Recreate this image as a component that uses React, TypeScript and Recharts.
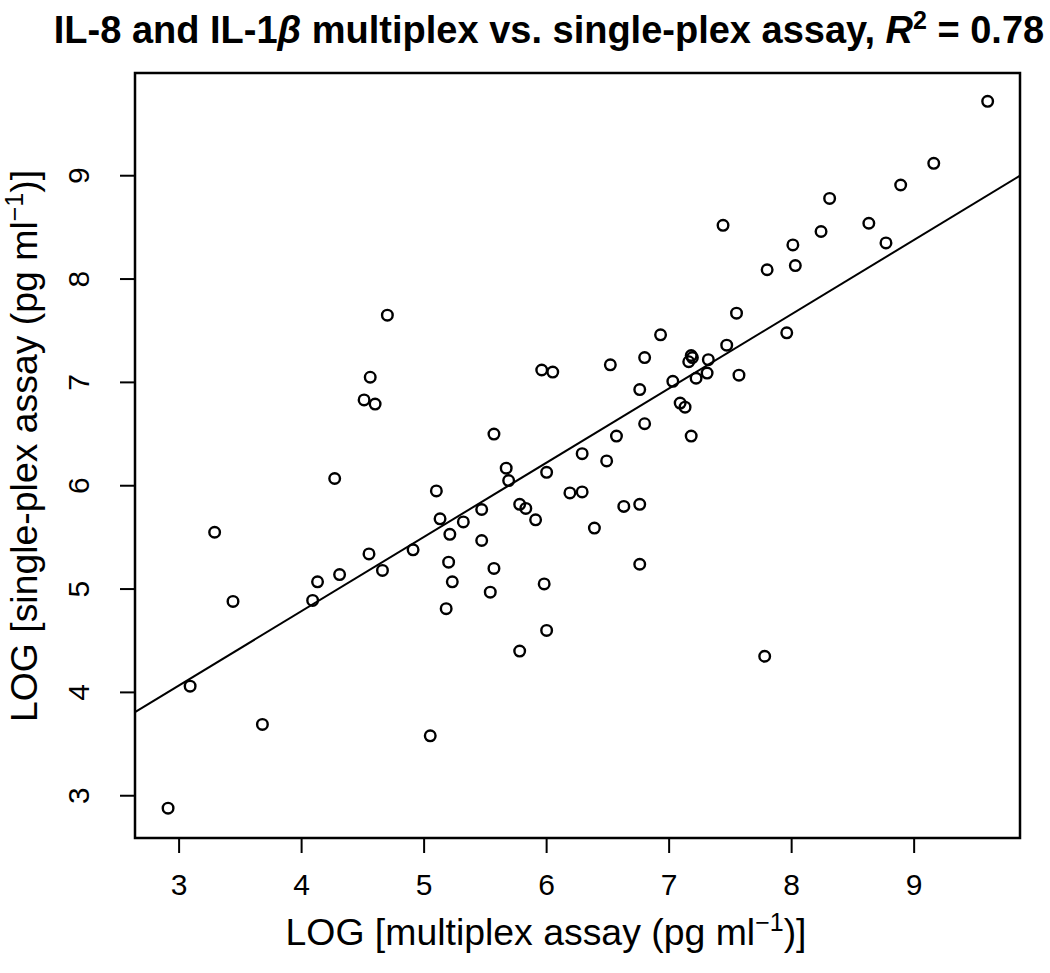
import React from "react";
import {
  ScatterChart,
  Scatter,
  XAxis,
  YAxis,
  ReferenceArea,
  ReferenceLine,
} from "recharts";

// multiplex (x) vs single-plex (y), log pg/ml
const multiplexLog = [
  4.7, 4.56, 4.51, 4.6, 5.57, 5.96, 6.05, 6.29,
  9.6, 9.16, 8.89, 8.31, 8.63, 7.44, 8.24, 8.01, 8.77, 8.03, 7.8, 7.55,
  7.96, 6.93, 6.8, 6.52, 7.18, 7.19, 7.16, 7.32, 7.47, 7.03, 7.22, 7.31,
  7.57, 6.76, 7.09, 7.13, 6.8, 6.57, 7.18,
  6.49, 6.29, 6.63, 6.76, 6.39, 6.76, 7.78,
  4.27, 5.1, 5.67, 5.69, 6.0, 6.19, 3.29, 5.13, 5.32, 5.47, 5.78, 5.83,
  5.91, 5.21, 5.47, 4.91, 4.55, 4.66, 4.31, 4.13, 4.09, 3.44, 5.2, 5.23,
  5.57, 5.54, 5.18, 5.98, 6.0, 5.78, 3.09, 3.68, 5.05, 2.91,
];
const singleplexLog = [
  7.65, 7.05, 6.83, 6.79, 6.5, 7.12, 7.1, 6.31,
  9.72, 9.12, 8.91, 8.78, 8.54, 8.52, 8.46, 8.33, 8.35, 8.13, 8.09, 7.67,
  7.48, 7.46, 7.24, 7.17, 7.26, 7.24, 7.2, 7.22, 7.36, 7.01, 7.04, 7.09,
  7.07, 6.93, 6.8, 6.76, 6.6, 6.48, 6.48,
  6.24, 5.94, 5.8, 5.82, 5.59, 5.24, 4.35,
  6.07, 5.95, 6.17, 6.05, 6.13, 5.93, 5.55, 5.68, 5.65, 5.77, 5.82, 5.78,
  5.67, 5.53, 5.47, 5.38, 5.34, 5.18, 5.14, 5.07, 4.89, 4.88, 5.26, 5.07,
  5.2, 4.97, 4.81, 5.05, 4.6, 4.4, 4.06, 3.69, 3.58, 2.88,
];

const xTicks = [3, 4, 5, 6, 7, 8, 9];
const yTicks = [3, 4, 5, 6, 7, 8, 9];

// fitted line, endpoints where it meets the box
const fitStart = { x: 2.64, y: 3.81 };
const fitEnd = { x: 9.864, y: 9.0 };

const X_MIN = 2.64;
const X_MAX = 9.864;
const Y_MIN = 2.591;
const Y_MAX = 9.994;

const FONT = "'Liberation Sans', Arial, Helvetica, sans-serif";

const points = multiplexLog.map((x, i) => ({ x, y: singleplexLog[i] }));

function XTick({ x, y, payload }: any) {
  return (
    <text x={x} y={y + 42} textAnchor="middle" fontSize={30} fill="#000" fontFamily={FONT}>
      {payload.value}
    </text>
  );
}

function YTick({ y, payload }: any) {
  const bx = 89;
  return (
    <text
      x={bx}
      y={y}
      transform={`rotate(-90, ${bx}, ${y})`}
      textAnchor="middle"
      fontSize={30}
      fill="#000"
      fontFamily={FONT}
    >
      {payload.value}
    </text>
  );
}

function OpenCircle(p: any) {
  return <circle cx={p.cx} cy={p.cy} r={5.3} fill="none" stroke="#000" strokeWidth={2.4} />;
}

export default function App() {
  return (
    <div style={{ position: "absolute", left: 0, top: 0, width: 1050, height: 973, background: "#fff" }}>
      <ScatterChart
        width={1050}
        height={973}
        margin={{ top: 73, right: 30, bottom: 75, left: 75 }}
      >
        <XAxis
          type="number"
          dataKey="x"
          domain={[X_MIN, X_MAX]}
          ticks={xTicks}
          allowDataOverflow
          height={60}
          axisLine={false}
          tickLine={{ stroke: "#000", strokeWidth: 2 }}
          tickSize={15}
          tickMargin={0}
          tick={<XTick />}
        />
        <YAxis
          type="number"
          dataKey="y"
          domain={[Y_MIN, Y_MAX]}
          ticks={yTicks}
          allowDataOverflow
          width={60}
          axisLine={false}
          tickLine={{ stroke: "#000", strokeWidth: 2 }}
          tickSize={15}
          tickMargin={0}
          tick={<YTick />}
        />
        <ReferenceArea
          x1={X_MIN}
          x2={X_MAX}
          y1={Y_MIN}
          y2={Y_MAX}
          fill="none"
          fillOpacity={0}
          stroke="#000"
          strokeWidth={2.5}
        />
        <ReferenceLine
          segment={[fitStart, fitEnd]}
          stroke="#000"
          strokeWidth={2}
        />
        <Scatter
          data={points}
          shape={<OpenCircle />}
          isAnimationActive={false}
        />
      </ScatterChart>
      <svg
        width={1050}
        height={973}
        style={{ position: "absolute", left: 0, top: 0, pointerEvents: "none" }}
        fontFamily={FONT}
      >
        <text x={549} y={43} textAnchor="middle" fontSize={38} fontWeight="bold" fill="#000">
          IL-8 and IL-1<tspan fontStyle="italic">β</tspan> multiplex vs. single-plex assay,{" "}
          <tspan fontStyle="italic">R</tspan>
          <tspan fontSize={25} dy={-14}>2</tspan>
          <tspan dy={14}> = 0.78</tspan>
        </text>
        <text x={546} y={945} textAnchor="middle" fontSize={37.4} fill="#000">
          LOG [multiplex assay (pg ml<tspan fontSize={25} dy={-14}>−1</tspan>
          <tspan dy={14}>)]</tspan>
        </text>
        <text
          x={37}
          y={446}
          transform="rotate(-90, 37, 446)"
          textAnchor="middle"
          fontSize={37.4}
          fill="#000"
        >
          LOG [single-plex assay (pg ml<tspan fontSize={25} dy={-14}>−1</tspan>
          <tspan dy={14}>)]</tspan>
        </text>
      </svg>
    </div>
  );
}
